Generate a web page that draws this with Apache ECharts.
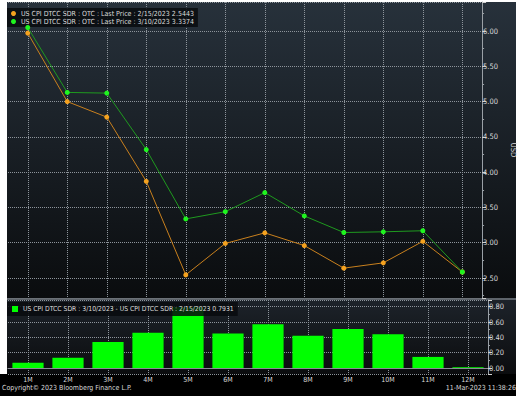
<!DOCTYPE html>
<html>
<head>
  <meta charset="utf-8">
  <title>US CPI DTCC SDR</title>
  <script src="https://cdn.jsdelivr.net/npm/echarts@6/dist/echarts.min.js"></script>
  <style>
    html, body { margin: 0; padding: 0; background: #fff; }
    #graph { width: 525px; height: 398px; }
  </style>
</head>
<body>
  <div id="graph"></div>

  <script>
    // tenors on the x axis
    var tenors = ['1M', '2M', '3M', '4M', '5M', '6M', '7M', '8M', '9M', '10M', '11M', '12M'];
    // fixings on 2/15/2023 (orange) and 3/10/2023 (green)
    var priceFeb15 = [5.97, 5.00, 4.78, 3.87, 2.5443, 2.99, 3.14, 2.96, 2.64, 2.715, 3.02, 2.585];
    var priceMar10 = [6.05, 5.13, 5.12, 4.32, 3.3374, 3.44, 3.71, 3.38, 3.145, 3.155, 3.17, 2.585];
    // difference 3/10 - 2/15
    var spread = [0.07, 0.135, 0.34, 0.46, 0.7931, 0.45, 0.57, 0.42, 0.51, 0.44, 0.145, 0.01];
    var cursor = 4; // legend shows the 5M values

    var nameFeb = 'US CPI DTCC SDR : OTC : Last Price : 2/15/2023';
    var nameMar = 'US CPI DTCC SDR : OTC : Last Price : 3/10/2023';
    var nameDiff = 'US CPI DTCC SDR : 3/10/2023 - US CPI DTCC SDR : 2/15/2023';
    var lastValue = {};
    lastValue[nameFeb] = priceFeb15[cursor];
    lastValue[nameMar] = priceMar10[cursor];
    lastValue[nameDiff] = spread[cursor];

    // half-step slots so the vertical grid lines fall on the tenors
    var halfSlots = [''];
    tenors.forEach(function (t) { halfSlots.push(t, ''); });

    var font = 'DejaVu Sans Condensed';
    var dotted = { color: '#8d949b', type: [1, 1], width: 1 };
    var txt = '#dadada';

    var myChart = echarts.init(document.getElementById('graph'), null, { renderer: 'svg' });

    function grad(top, bottom) {
      return new echarts.graphic.LinearGradient(0, 0, 0, 1, [
        { offset: 0, color: top }, { offset: 1, color: bottom }
      ]);
    }

    function vGrid(gridIndex) {
      return {
        gridIndex: gridIndex, type: 'category', data: halfSlots, boundaryGap: false,
        position: 'top',
        axisLine: { show: false }, axisTick: { show: false }, axisLabel: { show: false },
        splitLine: { show: true, interval: function (i) { return i % 2 === 1; }, lineStyle: dotted }
      };
    }

    function yLabel() {
      return {
        color: txt, fontSize: 7.5, margin: 1, fontFamily: font,
        showMinLabel: false, showMaxLabel: false,
        formatter: function (v) { return v.toFixed(2); }
      };
    }

    var option = {
      backgroundColor: '#fff',
      animation: false,
      textStyle: { fontFamily: font },
      graphic: [
        { type: 'rect', z: -10, shape: { x: 7, y: 2, width: 509, height: 296 }, style: { fill: grad('#27313b', '#0a0c0e') } },
        { type: 'rect', z: -10, shape: { x: 7, y: 298, width: 509, height: 2 }, style: { fill: '#5d636a' } },
        { type: 'rect', z: -10, shape: { x: 7, y: 300, width: 509, height: 74 }, style: { fill: grad('#1d232a', '#0b0c0e') } },
        { type: 'rect', z: -10, shape: { x: 0, y: 374, width: 516, height: 22 }, style: { fill: '#000' } },
        { type: 'text', left: 2, top: 384, style: { text: 'Copyright\u00a9 2023 Bloomberg Finance L.P.', fill: txt, font: '7px "DejaVu Sans Condensed"' } },
        { type: 'text', right: 9, top: 384, style: { text: '11-Mar-2023 11:38:26', fill: txt, font: '7px "DejaVu Sans Condensed"', textAlign: 'right' } }
      ],
      legend: [
        {
          data: [nameFeb, nameMar],
          orient: 'vertical',
          left: 7, top: 8,
          padding: [2, 4, 2, 4],
          itemGap: 1,
          itemWidth: 5, itemHeight: 5,
          icon: 'circle',
          backgroundColor: 'rgba(8,11,14,0.85)',
          formatter: function (n) { return n + ' ' + lastValue[n].toFixed(4); },
          textStyle: { color: '#dcdcdc', fontSize: 7, lineHeight: 7, fontFamily: font }
        },
        {
          data: [nameDiff],
          left: 7, top: 302,
          padding: [3, 4, 3, 5],
          itemWidth: 6, itemHeight: 6,
          icon: 'rect',
          backgroundColor: 'rgba(8,11,14,0.85)',
          formatter: function (n) { return n + ' ' + lastValue[n].toFixed(4); },
          textStyle: { color: '#dcdcdc', fontSize: 6.8, lineHeight: 8, fontFamily: font }
        }
      ],
      grid: [
        { left: 8, right: 37, top: 2, bottom: 100 },
        { left: 8, right: 37, top: 300, bottom: 24 }
      ],
      xAxis: [
        {
          gridIndex: 0, type: 'category', data: tenors,
          axisLine: { show: true, lineStyle: { color: '#6b7177' } },
          axisTick: { show: false }, axisLabel: { show: false },
          splitLine: { show: false }
        },
        {
          gridIndex: 1, type: 'category', data: tenors,
          axisLine: { show: true, lineStyle: { color: '#8a8f95' } },
          axisTick: { show: false },
          axisLabel: { color: txt, fontSize: 7, margin: 2, fontFamily: font },
          splitLine: { show: false }
        },
        vGrid(0),
        vGrid(1)
      ],
      yAxis: [
        {
          gridIndex: 0, type: 'value', position: 'right',
          min: 2.217, max: 6.411, splitNumber: 8,
          name: 'USD', nameLocation: 'middle', nameRotate: -90, nameGap: 15,
          nameTextStyle: { color: txt, fontSize: 7.5, fontFamily: font },
          axisLine: { show: true, lineStyle: { color: '#9aa0a6' } },
          axisTick: { show: true, length: 4, lineStyle: { color: '#d0d0d0' } },
          minorTick: { show: true, splitNumber: 2, length: 2, lineStyle: { color: '#9aa0a6' } },
          axisLabel: yLabel(),
          splitLine: { show: true, lineStyle: dotted }
        },
        {
          gridIndex: 1, type: 'value', position: 'right',
          min: -0.078, max: 0.887, splitNumber: 5,
          axisLine: { show: true, lineStyle: { color: '#9aa0a6' } },
          axisTick: { show: true, length: 4, lineStyle: { color: '#d0d0d0' } },
          minorTick: { show: true, splitNumber: 2, length: 2, lineStyle: { color: '#9aa0a6' } },
          axisLabel: yLabel(),
          splitLine: { show: true, lineStyle: dotted }
        }
      ],
      series: [
        {
          name: nameFeb, type: 'line', xAxisIndex: 0, yAxisIndex: 0,
          data: priceFeb15,
          symbol: 'circle', symbolSize: 5,
          itemStyle: { color: '#f5a21f' },
          lineStyle: { color: '#c9801e', width: 1 },
          z: 3
        },
        {
          name: nameMar, type: 'line', xAxisIndex: 0, yAxisIndex: 0,
          data: priceMar10,
          symbol: 'circle', symbolSize: 5,
          itemStyle: { color: '#1ff51f' },
          lineStyle: { color: '#1f9a1f', width: 1 },
          z: 4
        },
        {
          name: nameDiff, type: 'bar', xAxisIndex: 1, yAxisIndex: 1,
          data: spread,
          barCategoryGap: '22%',
          itemStyle: { color: '#00ff00' }
        }
      ]
    };

    myChart.setOption(option);
  </script>
</body>
</html>
